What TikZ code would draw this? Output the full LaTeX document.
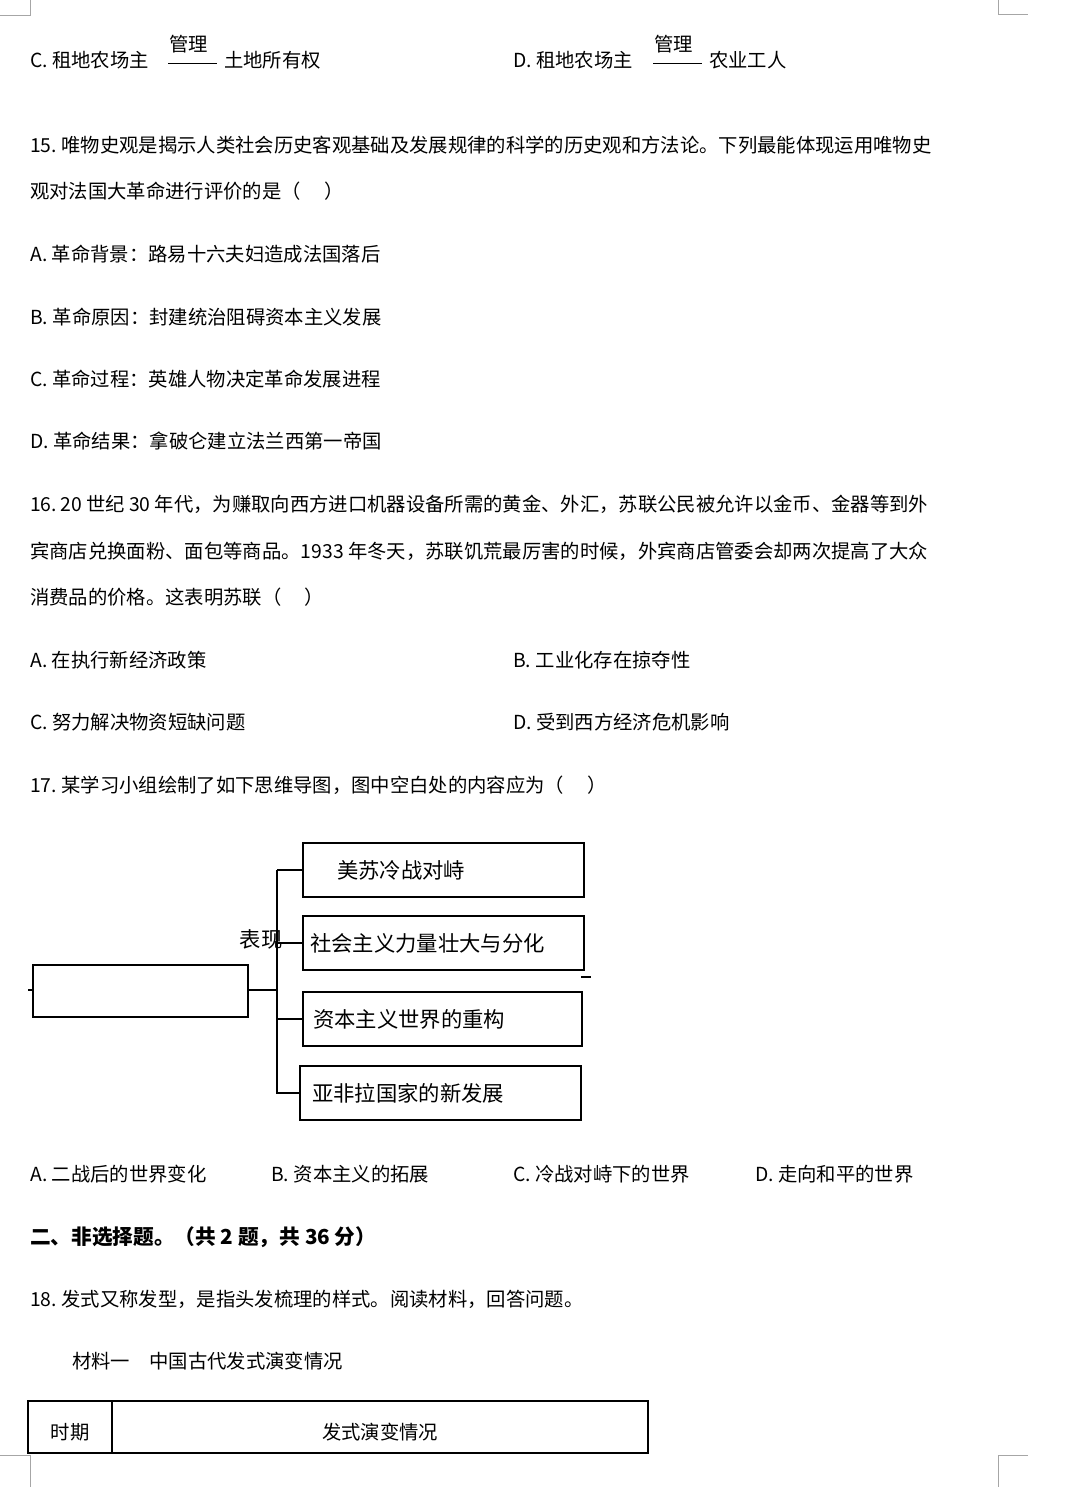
\documentclass[tikz,border=0pt]{standalone}
\usepackage{fontspec}
\setmainfont{Noto Sans CJK SC}
\begin{document}
\begin{tikzpicture}[x=0.75pt,y=-0.75pt,
 t/.style={anchor=west,inner sep=0pt,font=\fontsize{14.5}{16}\selectfont},
 bt/.style={anchor=west,inner sep=0pt,font=\fontsize{16}{18}\selectfont},
 box/.style={draw,line width=1.2pt},
 ln/.style={line width=1.1pt}]
\useasboundingbox (0,0) rectangle (1080,1487);
\draw[gray!70] (30,0)--(30,15)--(0,15) (998,0)--(998,14)--(1028,14)
 (0,1455)--(30,1455)--(30,1487) (1028,1455)--(998,1455)--(998,1487);
% C D line
\node[t] (c) at (30,60) {C.\ 租地农场主};
\draw (168,63)--(217,63); \node[t] (g1) at (169,44) {管理};
\node[t] (c2) at (224,60) {土地所有权};
\node[t] (d) at (513,60) {D.\ 租地农场主};
\draw (653,63)--(702,63); \node[t] (g2) at (654,44) {管理};
\node[t] (d2) at (709,60) {农业工人};
\node[t] (q15) at (30,145) {15.\ 唯物史观是揭示人类社会历史客观基础及发展规律的科学的历史观和方法论。下列最能体现运用唯物史};
\node[t] (q15b) at (30,191) {观对法国大革命进行评价的是（\hspace{1.2em}）};
\node[t] (a15) at (30,254) {A.\ 革命背景：路易十六夫妇造成法国落后};
\node[t] (b15) at (30,317) {B.\ 革命原因：封建统治阻碍资本主义发展};
\node[t] (c15) at (30,379) {C.\ 革命过程：英雄人物决定革命发展进程};
\node[t] (d15) at (30,441) {D.\ 革命结果：拿破仑建立法兰西第一帝国};
\node[t] (q16) at (30,504) {16.\,20 世纪 30 年代，为赚取向西方进口机器设备所需的黄金、外汇，苏联公民被允许以金币、金器等到外};
\node[t] (q16b) at (30,551) {宾商店兑换面粉、面包等商品。1933 年冬天，苏联饥荒最厉害的时候，外宾商店管委会却两次提高了大众};
\node[t] (q16c) at (30,597) {消费品的价格。这表明苏联（\hspace{1.2em}）};
\node[t] (a16) at (30,660) {A.\ 在执行新经济政策};
\node[t] (b16) at (513,660) {B.\ 工业化存在掠夺性};
\node[t] (c16) at (30,722) {C.\ 努力解决物资短缺问题};
\node[t] (d16) at (513,722) {D.\ 受到西方经济危机影响};
\node[t] (q17) at (30,785) {17.\ 某学习小组绘制了如下思维导图，图中空白处的内容应为（\hspace{1.2em}）};
% mind map
\draw[box] (33,965) rectangle (248,1017);
\coordinate (m) at (248,990);
\draw[ln] (28,990)--(33,990);
\draw[ln] (m)--(277,990);
\draw[ln] (277,870)--(277,1094);
\draw[box] (303,843) rectangle (584,897); \node[bt] (b1) at (337,870) {美苏冷战对峙};
\draw[box] (303,916) rectangle (584,970); \node[bt] (b2) at (310,943) {社会主义力量壮大与分化};
\draw[box] (303,992) rectangle (582,1046); \node[bt] (b3) at (313,1019) {资本主义世界的重构};
\draw[box] (300,1066) rectangle (581,1120); \node[bt] (b4) at (312,1093) {亚非拉国家的新发展};
\draw[ln] (277,870)--(303,870) (277,943)--(303,943) (277,1019)--(303,1019) (277,1093)--(300,1093);
\node[bt,anchor=center] (bx) at (261,939) {表\\[-2pt]现};
\node[bt,anchor=center,align=center] at (261,939) {};
\draw[ln] (581,977)--(591,977);
\node[t] (a17) at (30,1174) {A.\ 二战后的世界变化};
\node[t] (b17) at (271,1174) {B.\ 资本主义的拓展};
\node[t] (c17) at (513,1174) {C.\ 冷战对峙下的世界};
\node[t] (d17) at (755,1174) {D.\ 走向和平的世界};
\node[t,font=\fontsize{15.5}{18}\selectfont\bfseries] (h2) at (30,1237) {二、非选择题。（共 2 题，共 36 分）};
\node[t] (q18) at (30,1299) {18.\ 发式又称发型，是指头发梳理的样式。阅读材料，回答问题。};
\node[t] (m1) at (72,1361) {材料一\hspace{1em}中国古代发式演变情况};
\draw[line width=1.2pt] (28,1401) rectangle (648,1453) (112,1401)--(112,1453);
\node[t,anchor=center] (t1) at (70,1432) {时期};
\node[t,anchor=center] (t2) at (380,1432) {发式演变情况};
\end{tikzpicture}
\end{document}
